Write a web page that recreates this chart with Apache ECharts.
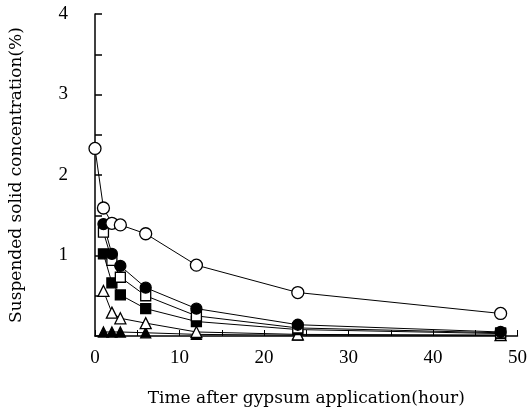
<!DOCTYPE html>
<html><head><meta charset="utf-8">
<script src="https://cdn.jsdelivr.net/npm/echarts@6/dist/echarts.min.js"></script>
<style>html,body{margin:0;padding:0;background:#fff}#c{width:530px;height:412px}</style>
</head><body><div id="c"></div>
<script>
const times = [0, 1, 2, 3, 6, 12, 24, 48];
const openCircle   = [2.33, 1.59, 1.40, 1.38, 1.27, 0.88, 0.54, 0.28];
const filledCircle = [null, 1.39, 1.02, 0.87, 0.60, 0.34, 0.14, 0.05];
const openSquare   = [null, 1.29, 0.94, 0.73, 0.50, 0.25, 0.10, 0.04];
const filledSquare = [null, 1.02, 0.66, 0.51, 0.34, 0.18, 0.08, 0.03];
const openTri      = [null, 0.56, 0.29, 0.22, 0.16, 0.05, 0.02, 0.01];
const filledTri    = [null, 0.05, 0.05, 0.05, 0.04, 0.02, 0.01, 0.01];
const xTickLabels = [0, 10, 20, 30, 40, 50];
const yTickLabels = [1, 2, 3, 4];
const xTitle = 'Time after gypsum application(hour)';
const yTitle = 'Suspended solid concentration(%)';

function pts(vals){ return times.map((t,i)=>vals[i]==null?null:[t,vals[i]]).filter(p=>p); }
function mk(vals, symbol, filled, size){
  return {type:'line', data:pts(vals), symbol:symbol, symbolSize:size,
    showAllSymbol:true,
    lineStyle:{color:'#000', width:1},
    itemStyle:{color: filled?'#000':'#fff', borderColor:'#000', borderWidth:1.3},
    emphasis:{disabled:true}, z: 3};
}
const numFont = 'Liberation Serif';
const titleFont = 'DejaVu Serif';
const chart = echarts.init(document.getElementById('c'));
chart.setOption({
  animation:false,
  grid:{left:89, right:8, top:14, bottom:70},
  xAxis:{type:'value', min:0, max:50, interval:5,
    axisLine:{lineStyle:{color:'#000', width:1.5}},
    axisTick:{inside:true, length:6, lineStyle:{color:'#000'}},
    splitLine:{show:false},
    axisLabel:{color:'#000', fontFamily:numFont, fontSize:19, margin:13,
      formatter:v=>xTickLabels.includes(v)?String(v):''},
    name:xTitle, nameLocation:'middle', nameGap:54,
    nameTextStyle:{color:'#000', fontFamily:titleFont, fontSize:17}},
  yAxis:{type:'value', min:0, max:4, interval:0.5,
    axisLine:{lineStyle:{color:'#000', width:1.5}},
    axisTick:{inside:true, length:7, lineStyle:{color:'#000', width:1.5}},
    splitLine:{show:false},
    axisLabel:{color:'#000', fontFamily:numFont, fontSize:19, margin:27,
      formatter:v=>yTickLabels.includes(v)?String(v):''},
    name:yTitle, nameLocation:'middle', nameGap:70,
    nameTextStyle:{color:'#000', fontFamily:titleFont, fontSize:17}},
  series:[
    mk(filledTri,'triangle',true,10),
    mk(openTri,'triangle',false,11),
    mk(filledSquare,'rect',true,10),
    mk(openSquare,'rect',false,10),
    mk(filledCircle,'circle',true,11),
    mk(openCircle,'circle',false,12)
  ]
});
</script></body></html>
